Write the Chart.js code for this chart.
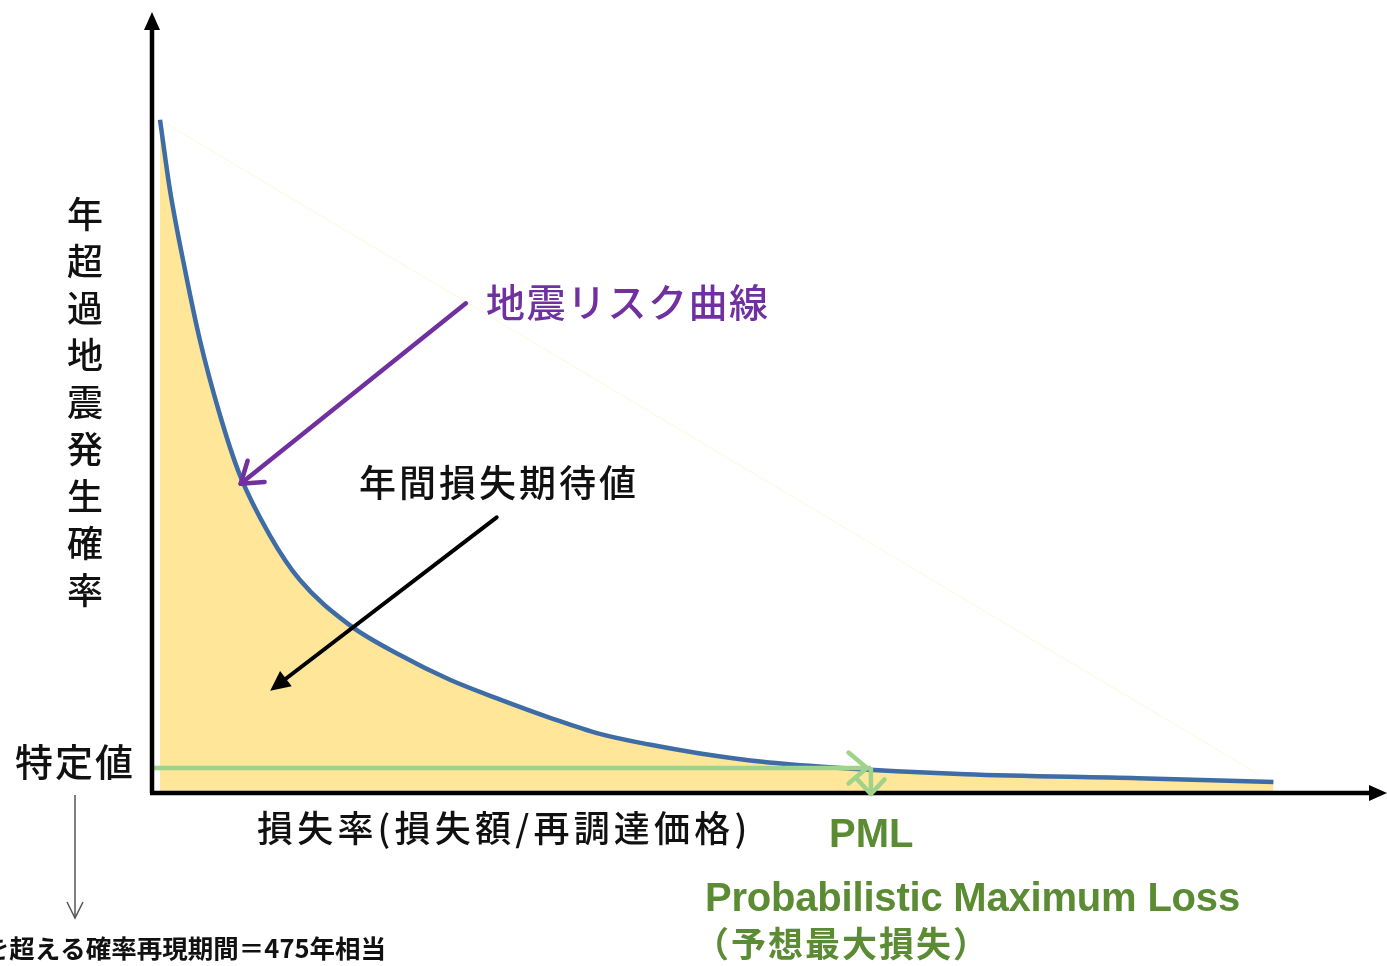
<!DOCTYPE html>
<html lang="ja">
<head>
<meta charset="utf-8">
<title>地震リスク曲線とPML</title>
<script src="https://cdn.jsdelivr.net/npm/chart.js@4/dist/chart.umd.min.js"></script>
<style>
  html, body { margin: 0; padding: 0; background: #ffffff; }
  #wrap { position: relative; width: 1387px; height: 966px; overflow: hidden; }
</style>
</head>
<body>
<div id="wrap"><canvas id="pml"></canvas></div>
<script>
// Risk curve: loss ratio (x) vs. annual exceedance probability (y), schematic units 0–100
const lossRatio = [0.65, 1.46, 2.68, 3.89, 5.52, 7.14, 9.57, 12.0, 16.06, 20.1, 24.2, 28.4,
                   32.4, 36.3, 40.4, 44.4, 49.6, 55.0, 66.1, 80.1, 91.1];
const exceedProb = [86.2, 77.2, 67.0, 58.0, 48.4, 40.7, 33.0, 27.3, 21.5, 17.7, 14.5, 11.9,
                    9.6, 7.6, 6.2, 5.1, 4.0, 3.3, 2.4, 1.9, 1.4];

// Threshold probability and the loss ratio where the curve reaches it (PML)
const thresholdProb = 3.2;
const pmlLoss = 58.4;

// Annotation arrows in data units: [x0, y0, x1, y1]
const curveArrow = [25.5, 62.7, 7.2, 39.6];
const areaArrow = [28.0, 35.3, 9.6, 13.1];

// Text labels
const labelCurve = '地震リスク曲線';
const labelArea = '年間損失期待値';
const labelY = '年超過地震発生確率';
const labelThreshold = '特定値';
const labelX = '損失率(損失額/再調達価格)';
const labelPml = 'PML';
const labelPmlEn = 'Probabilistic Maximum Loss';
const labelPmlJa = '（予想最大損失）';
const labelFoot = 'を超える確率再現期間＝475年相当';

const curvePoints = lossRatio.map((x, i) => ({ x, y: exceedProb[i] }));

const JP = '"Noto Sans CJK JP", "Noto Sans", sans-serif';

function arrowHead(ctx, x0, y0, x1, y1, len, spread, filled, color, width) {
  const a = Math.atan2(y1 - y0, x1 - x0);
  const p1 = [x1 - len * Math.cos(a - spread), y1 - len * Math.sin(a - spread)];
  const p2 = [x1 - len * Math.cos(a + spread), y1 - len * Math.sin(a + spread)];
  ctx.save();
  ctx.strokeStyle = color; ctx.fillStyle = color;
  ctx.lineWidth = width; ctx.lineCap = 'round'; ctx.lineJoin = 'round';
  ctx.beginPath();
  if (filled) {
    ctx.moveTo(x1, y1); ctx.lineTo(p1[0], p1[1]); ctx.lineTo(p2[0], p2[1]); ctx.closePath(); ctx.fill();
  } else {
    ctx.moveTo(p1[0], p1[1]); ctx.lineTo(x1, y1); ctx.lineTo(p2[0], p2[1]); ctx.stroke();
  }
  ctx.restore();
}

function arrow(ctx, x0, y0, x1, y1, opts) {
  ctx.save();
  ctx.strokeStyle = opts.color; ctx.lineWidth = opts.width; ctx.lineCap = 'round';
  const a = Math.atan2(y1 - y0, x1 - x0);
  const back = opts.filled ? opts.len * 0.8 : 0;
  ctx.beginPath();
  ctx.moveTo(x0, y0);
  ctx.lineTo(x1 - back * Math.cos(a), y1 - back * Math.sin(a));
  ctx.stroke();
  ctx.restore();
  arrowHead(ctx, x0, y0, x1, y1, opts.len, opts.spread, opts.filled, opts.color, opts.width);
}

function text(ctx, str, x, y, font, color, spacing, align) {
  ctx.font = font;
  ctx.fillStyle = color;
  ctx.letterSpacing = (spacing || 0) + 'px';
  ctx.textAlign = align || 'left';
  ctx.fillText(str, x, y);
  ctx.letterSpacing = '0px';
}

const decorations = {
  id: 'decorations',
  beforeDatasetsDraw(chart) {
    const { ctx, scales: { x, y } } = chart;
    // faint guide from the curve's start down to its tail
    ctx.save();
    ctx.strokeStyle = 'rgba(250, 235, 190, 0.3)';
    ctx.lineWidth = 1.5;
    ctx.beginPath();
    ctx.moveTo(x.getPixelForValue(lossRatio[0]), y.getPixelForValue(exceedProb[0]));
    ctx.lineTo(x.getPixelForValue(90), y.getPixelForValue(2.3));
    ctx.stroke();
    ctx.restore();
  },
  afterDatasetsDraw(chart) {
    const { ctx, chartArea: ca, scales: { x, y } } = chart;

    // axes with arrowheads
    ctx.save();
    ctx.strokeStyle = '#000'; ctx.fillStyle = '#000'; ctx.lineWidth = 4.5; ctx.lineCap = 'butt';
    ctx.beginPath();
    ctx.moveTo(ca.left, ca.bottom); ctx.lineTo(ca.left, ca.top + 14);
    ctx.moveTo(ca.left - 2, ca.bottom); ctx.lineTo(ca.right - 10, ca.bottom);
    ctx.stroke();
    ctx.beginPath();
    ctx.moveTo(ca.left, ca.top); ctx.lineTo(ca.left - 8, ca.top + 18); ctx.lineTo(ca.left + 8, ca.top + 18); ctx.closePath();
    ctx.fill();
    ctx.beginPath();
    ctx.moveTo(ca.right + 4, ca.bottom); ctx.lineTo(ca.right - 14, ca.bottom - 8); ctx.lineTo(ca.right - 14, ca.bottom + 8); ctx.closePath();
    ctx.fill();
    ctx.restore();

    // green arrowheads of the threshold line and the PML drop
    const green = '#9fd38a';
    const px = x.getPixelForValue(pmlLoss);
    const py = y.getPixelForValue(thresholdProb);
    arrowHead(ctx, px - 40, py, px - 4, py, 24, 0.7, false, green, 4.5);
    arrowHead(ctx, px, py, px, ca.bottom + 1, 20, 0.75, false, green, 4.5);

    // pointer arrows
    const c = curveArrow.map((v, i) => i % 2 ? y.getPixelForValue(v) : x.getPixelForValue(v));
    arrow(ctx, c[0], c[1], c[2], c[3], { color: '#7030a0', width: 4.5, len: 24, spread: 0.6, filled: false });
    const b = areaArrow.map((v, i) => i % 2 ? y.getPixelForValue(v) : x.getPixelForValue(v));
    arrow(ctx, b[0], b[1], b[2], b[3], { color: '#000', width: 4, len: 22, spread: 0.45, filled: true });

    // texts
    ctx.save();
    ctx.textBaseline = 'middle';
    text(ctx, labelCurve, 486, 302, `500 39px ${JP}`, '#7030a0', 1.5);
    text(ctx, labelArea, 359, 483, `500 37px ${JP}`, '#111', 3);

    ctx.font = `500 36px ${JP}`;
    ctx.fillStyle = '#111';
    ctx.textAlign = 'center';
    [...labelY].forEach((ch, i) => ctx.fillText(ch, 85, 214 + i * 47));

    text(ctx, labelThreshold, 15, 762, `500 38px ${JP}`, '#111', 2);
    text(ctx, labelX, 257, 828, `500 36px ${JP}`, '#111', 4.2);

    const green2 = '#5b8c34';
    text(ctx, labelPml, 829, 836, 'bold 40px "Liberation Sans", Arial, sans-serif', green2, 0);
    text(ctx, labelPmlEn, 705, 900, 'bold 40px "Liberation Sans", Arial, sans-serif', green2, -0.2);
    text(ctx, labelPmlJa, 694, 944, `bold 35px ${JP}`, green2, 2);

    text(ctx, labelFoot, 386, 948, `bold 25.5px ${JP}`, '#111', 0, 'right');
    ctx.restore();

    // thin pointer below the threshold label
    ctx.save();
    ctx.strokeStyle = '#555'; ctx.lineWidth = 1.5;
    ctx.beginPath(); ctx.moveTo(75, 795); ctx.lineTo(75, 918); ctx.stroke();
    ctx.beginPath(); ctx.moveTo(67, 902); ctx.lineTo(75, 918); ctx.lineTo(83, 902); ctx.stroke();
    ctx.restore();
  }
};

new Chart(document.getElementById('pml'), {
  type: 'scatter',
  data: {
    datasets: [
      {
        label: labelCurve,
        data: curvePoints,
        showLine: true,
        borderColor: '#3d6ca6',
        borderWidth: 4.5,
        backgroundColor: '#ffe699',
        fill: 'origin',
        cubicInterpolationMode: 'monotone',
        pointRadius: 0,
        order: 2
      },
      {
        label: labelThreshold,
        data: [{ x: 0, y: thresholdProb }, { x: pmlLoss, y: thresholdProb }],
        showLine: true,
        borderColor: '#9fd38a',
        borderWidth: 4.5,
        pointRadius: 0,
        fill: false,
        order: 1
      },
      {
        label: labelPml,
        data: [{ x: pmlLoss, y: thresholdProb }, { x: pmlLoss, y: 0 }],
        showLine: true,
        borderColor: '#9fd38a',
        borderWidth: 4.5,
        pointRadius: 0,
        fill: false,
        order: 1
      }
    ]
  },
  options: {
    responsive: true,
    maintainAspectRatio: false,
    animation: false,
    layout: { padding: { left: 152, right: 4, top: 12, bottom: 173 } },
    plugins: { legend: { display: false }, tooltip: { enabled: false } },
    scales: {
      x: { type: 'linear', min: 0, max: 100, display: false },
      y: { type: 'linear', min: 0, max: 100, display: false }
    }
  },
  plugins: [decorations]
});
</script>
</body>
</html>
